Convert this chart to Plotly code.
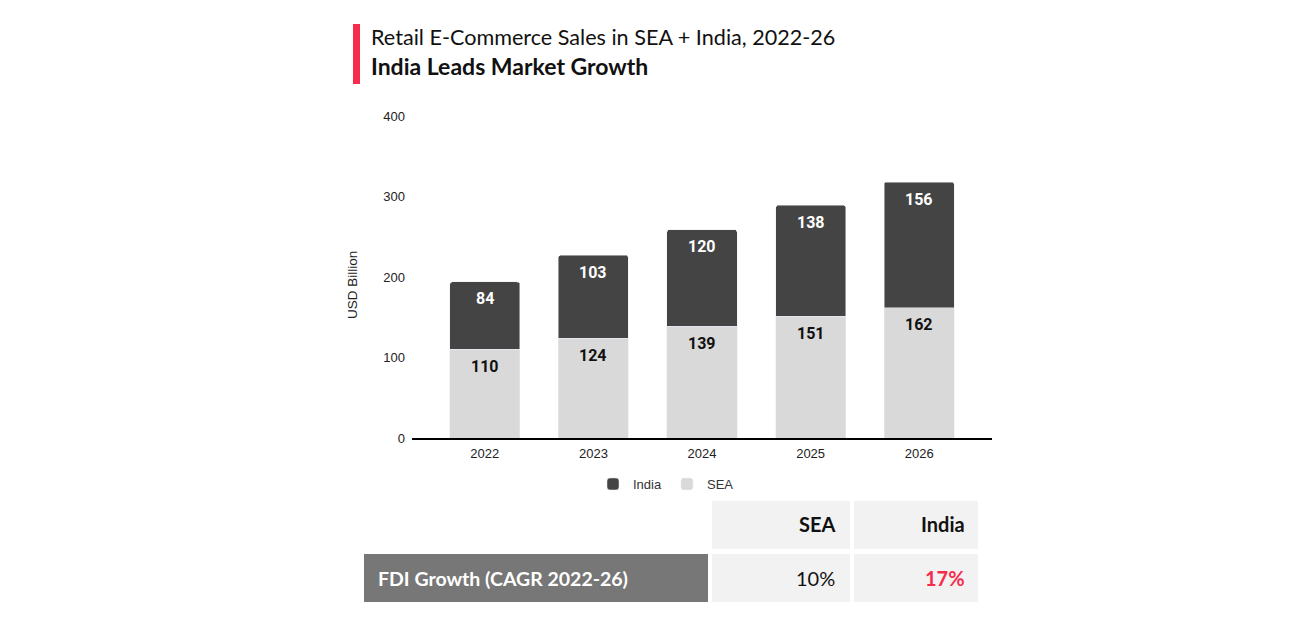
import plotly.graph_objects as go

years = ["2022", "2023", "2024", "2025", "2026"]
sea = [110, 124, 139, 151, 162]
india = [84, 103, 120, 138, 156]
y_ticks = [0, 100, 200, 300, 400]

table_header = ["", "SEA", "India"]
table_row_label = ["FDI Growth (CAGR 2022-26)"]
table_sea = ["10%"]
table_india = ["17%"]

W, H = 1295, 630
OFF = 8  # page offset of the plot div
def px_x(p):
    return (p - OFF) / W
def px_y(p):
    return 1 - (p - OFF) / H

TITLE_FONT = "Lato, 'Source Sans Pro', 'Noto Sans', sans-serif"
AX_FONT = "'Liberation Sans', Arial, sans-serif"
LBL_FONT = "Roboto, Arial, sans-serif"

fig = go.Figure()
fig.add_trace(go.Bar(x=years, y=sea, name="SEA", marker=dict(color="#d9d9d9"), width=0.645))
fig.add_trace(go.Bar(x=years, y=india, name="India", marker=dict(color="#444444"), width=0.645))

shapes = [dict(type="rect", xref="paper", yref="paper",
               x0=px_x(353), x1=px_x(360), y0=px_y(84), y1=px_y(24),
               fillcolor="#f72c4c", line=dict(width=0))]
annotations = [
    dict(text="Retail E-Commerce Sales in SEA + India, 2022-26", xref="paper", yref="paper",
         x=px_x(369), y=px_y(37), xanchor="left", yanchor="middle", showarrow=False,
         font=dict(family=TITLE_FONT, size=21.6, color="#111111")),
    dict(text="<b>India Leads Market Growth</b>", xref="paper", yref="paper",
         x=px_x(369), y=px_y(66), xanchor="left", yanchor="middle", showarrow=False,
         font=dict(family=TITLE_FONT, size=23, color="#111111")),
    dict(text="USD Billion", xref="paper", yref="paper", textangle=-90,
         x=px_x(352), y=px_y(285), xanchor="center", yanchor="middle", showarrow=False,
         font=dict(family=AX_FONT, size=13.5, color="#222222")),
]

# value labels placed near the top of each segment, in data coordinates
# (category axis: annotation x uses the category serial number)
for k, (s, i) in enumerate(zip(sea, india)):
    annotations.append(dict(x=k, y=s, xref="x", yref="y", text=f"<b>{s}</b>",
                            showarrow=False, yanchor="middle", yshift=-17,
                            font=dict(family=LBL_FONT, size=16, color="#111111")))
    annotations.append(dict(x=k, y=s + i, xref="x", yref="y", text=f"<b>{i}</b>",
                            showarrow=False, yanchor="middle", yshift=-17,
                            font=dict(family=LBL_FONT, size=16, color="#ffffff")))

# ---- table built from the arrays (shapes for cells, annotations for text)
col_x = [(364, 708), (712, 850), (854, 978)]
row_y = [(501, 549), (554, 602)]
pad = [12, 13, 11]
header_fill = ["#ffffff", "#f2f2f2", "#f2f2f2"]
body_fill = ["#777777", "#f2f2f2", "#f2f2f2"]
body_color = ["#ffffff", "#111111", "#f72c4c"]
body_bold = [True, False, True]
body_cols = [table_row_label, table_sea, table_india]

def cell(ci, ri, text, fill, color, bold, align, dy, size):
    x0, x1 = col_x[ci]
    y0, y1 = row_y[ri]
    shapes.append(dict(type="rect", xref="paper", yref="paper", layer="below",
                       x0=px_x(x0), x1=px_x(x1), y0=px_y(y1), y1=px_y(y0),
                       fillcolor=fill, line=dict(width=0)))
    if text:
        tx = x0 + pad[ci] if align == "left" else x1 - pad[ci]
        annotations.append(dict(
            text=f"<b>{text}</b>" if bold else text, xref="paper", yref="paper",
            x=px_x(tx), y=px_y((y0 + y1) / 2 + dy), xanchor=align, yanchor="middle",
            showarrow=False, font=dict(family=TITLE_FONT, size=size, color=color)))

for ci, h in enumerate(table_header):
    cell(ci, 0, h, header_fill[ci], "#111111", True, "left" if ci == 0 else "right", -1, 20)
for ci, col in enumerate(body_cols):
    cell(ci, 1, col[0], body_fill[ci], body_color[ci], body_bold[ci],
         "left" if ci == 0 else "right", 0, 19.5 if ci == 0 else 20)

fig.update_layout(
    width=W, height=H,
    margin=dict(l=0, r=0, t=0, b=0),
    paper_bgcolor="white", plot_bgcolor="white",
    barmode="stack",
    barcornerradius=3,
    xaxis=dict(
        type="category",
        domain=[px_x(412), px_x(992)],
        range=[-0.67, 4.67],
        showline=True, linecolor="#000000", linewidth=1.5,
        showgrid=False, ticks="", automargin=False, ticklabelstandoff=3,
        tickfont=dict(family=AX_FONT, size=13, color="#222222"),
    ),
    yaxis=dict(
        domain=[px_y(438), px_y(116)],
        range=[0, 400], tickvals=y_ticks,
        showgrid=False, zeroline=False, showline=False, automargin=False,
        ticklabelstandoff=6,
        tickfont=dict(family=AX_FONT, size=13, color="#222222"),
    ),
    legend=dict(
        orientation="h", x=px_x(666), xanchor="center", y=px_y(484), yanchor="middle",
        traceorder="reversed",
        font=dict(family=AX_FONT, size=13, color="#333333"),
    ),
    showlegend=True,
    shapes=shapes,
    annotations=annotations,
)

fig.write_html("out.html")
